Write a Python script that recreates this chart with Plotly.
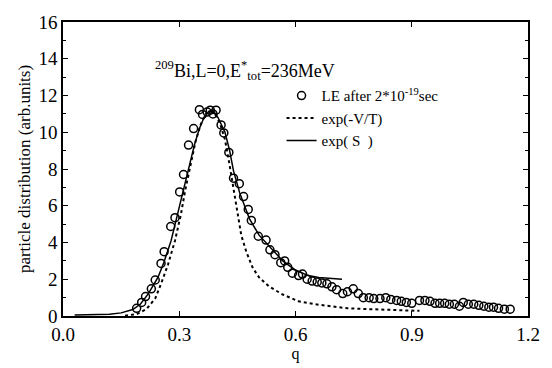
import plotly.graph_objects as go

# LE after 2*10^-19 sec (open circles)
le_q = [0.19, 0.203, 0.213, 0.228, 0.238, 0.253, 0.261, 0.278, 0.289, 0.301, 0.311, 0.324,
        0.337, 0.352, 0.36, 0.372, 0.38, 0.387, 0.395, 0.408, 0.415, 0.428, 0.44, 0.455,
        0.466, 0.478, 0.486, 0.504, 0.524, 0.534, 0.547, 0.562, 0.572, 0.58, 0.592, 0.608,
        0.618, 0.63, 0.643, 0.656, 0.668, 0.681, 0.694, 0.706, 0.722, 0.734, 0.749, 0.762,
        0.775, 0.79, 0.802, 0.818, 0.833, 0.846, 0.861, 0.873, 0.886, 0.9, 0.92, 0.934,
        0.947, 0.96, 0.972, 0.985, 0.997, 1.01, 1.023, 1.033, 1.046, 1.06, 1.073, 1.086,
        1.099, 1.111, 1.124, 1.139, 1.154]
le_y = [0.42, 0.74, 1.06, 1.48, 1.96, 2.86, 3.5, 4.87, 5.35, 6.75, 7.7, 9.3,
        10.2, 11.23, 10.97, 11.1, 11.2, 11.0, 11.2, 10.4, 9.96, 8.9, 7.5, 7.2,
        6.5, 5.8, 5.2, 4.34, 4.13, 3.6, 3.34, 2.9, 3.0, 2.65, 2.33, 2.2,
        2.28, 2.0, 1.9, 1.85, 1.8, 1.75, 1.59, 1.43, 1.22, 1.32, 1.48, 1.22,
        1.0, 1.0, 0.95, 0.95, 1.0, 0.9, 0.85, 0.8, 0.74, 0.69, 0.85, 0.85,
        0.8, 0.69, 0.69, 0.69, 0.64, 0.64, 0.53, 0.74, 0.64, 0.64, 0.58, 0.53,
        0.48, 0.48, 0.42, 0.37, 0.37]

# exp(-V/T) (dotted)
vt_q = [0.16, 0.19, 0.215, 0.238, 0.253, 0.271, 0.289, 0.304, 0.316, 0.329, 0.342, 0.355,
        0.368, 0.38, 0.392, 0.405, 0.418, 0.43, 0.44, 0.448, 0.46, 0.473, 0.49, 0.506,
        0.532, 0.567, 0.608, 0.65, 0.694, 0.734, 0.78, 0.82, 0.886, 0.92]
vt_y = [0.02, 0.1, 0.37, 0.95, 1.75, 2.8, 4.1, 5.5, 6.9, 8.3, 9.5, 10.4,
        11.0, 11.15, 11.0, 10.5, 9.6, 8.2, 6.9, 5.8, 4.4, 3.5, 2.6, 2.1,
        1.6, 1.17, 0.8, 0.64, 0.53, 0.42, 0.38, 0.35, 0.3, 0.28]

# exp(S) (solid)
s_q = [0.03, 0.08, 0.12, 0.15, 0.18, 0.2, 0.22, 0.245, 0.26, 0.279, 0.295, 0.314, 0.327,
       0.339, 0.352, 0.364, 0.377, 0.39, 0.4, 0.418, 0.43, 0.44, 0.456, 0.468, 0.481,
       0.506, 0.532, 0.567, 0.6, 0.633, 0.66, 0.684, 0.72]
s_y = [0.05, 0.07, 0.1, 0.17, 0.35, 0.65, 1.2, 2.1, 2.9, 4.1, 5.5, 7.0, 8.3,
       9.3, 10.2, 10.8, 11.15, 11.1, 10.8, 10.0, 9.0, 7.9, 6.7, 6.0, 5.3,
       4.4, 3.8, 3.0, 2.5, 2.2, 2.1, 2.05, 2.0]

x_ticks = [0.0, 0.3, 0.6, 0.9, 1.2]
x_tick_labels = ["0.0", "0.3", "0.6", "0.9", "1.2"]
y_ticks = [0, 2, 4, 6, 8, 10, 12, 14, 16]

FONT = "Liberation Serif, Times New Roman, serif"

fig = go.Figure()
fig.add_trace(go.Scatter(
    x=le_q, y=le_y, mode="markers", name="LE after 2*10<sup>-19</sup>sec",
    marker=dict(symbol="circle-open", size=8, color="black", line=dict(width=1.5, color="black")),
))
fig.add_trace(go.Scatter(
    x=vt_q, y=vt_y, mode="lines", name="exp(-V/T)",
    line=dict(color="black", width=2, dash="dot"),
))
fig.add_trace(go.Scatter(
    x=s_q, y=s_y, mode="lines", name="exp( S  )",
    line=dict(color="black", width=1.5),
))

fig.add_annotation(
    x=0.47, y=13.35, xref="x", yref="y",
    text="<sup>209</sup>Bi,L=0,E<sup>*</sup><sub>tot</sub>=236MeV",
    showarrow=False, font=dict(family=FONT, size=18, color="black"),
)

axis_common = dict(
    showline=True, linecolor="black", linewidth=1.5, mirror="ticks",
    ticks="inside", tickcolor="black", ticklen=5, tickwidth=1,
    showgrid=False, zeroline=False,
    tickfont=dict(family=FONT, size=19, color="black"),
)

fig.update_layout(
    width=552, height=368,
    margin=dict(l=63, r=15, t=18, b=49),
    paper_bgcolor="white", plot_bgcolor="white",
    showlegend=True,
    legend=dict(
        x=0.47, y=0.805, xanchor="left", yanchor="top",
        font=dict(family=FONT, size=15, color="black"),
        bgcolor="rgba(0,0,0,0)", tracegroupgap=0, itemwidth=30,
    ),
    xaxis=dict(
        range=[0, 1.2], tickvals=x_ticks, ticktext=x_tick_labels,
        title=dict(text="q", font=dict(family=FONT, size=16, color="black"), standoff=0),
        **axis_common,
    ),
    yaxis=dict(
        range=[0, 16], tickvals=y_ticks,
        title=dict(text="particle distribution (arb.units)",
                   font=dict(family=FONT, size=17, color="black"), standoff=4),
        minor=dict(ticks="inside", dtick=1, ticklen=3, tickcolor="black"),
        **axis_common,
    ),
)

fig.write_html("out.html")
